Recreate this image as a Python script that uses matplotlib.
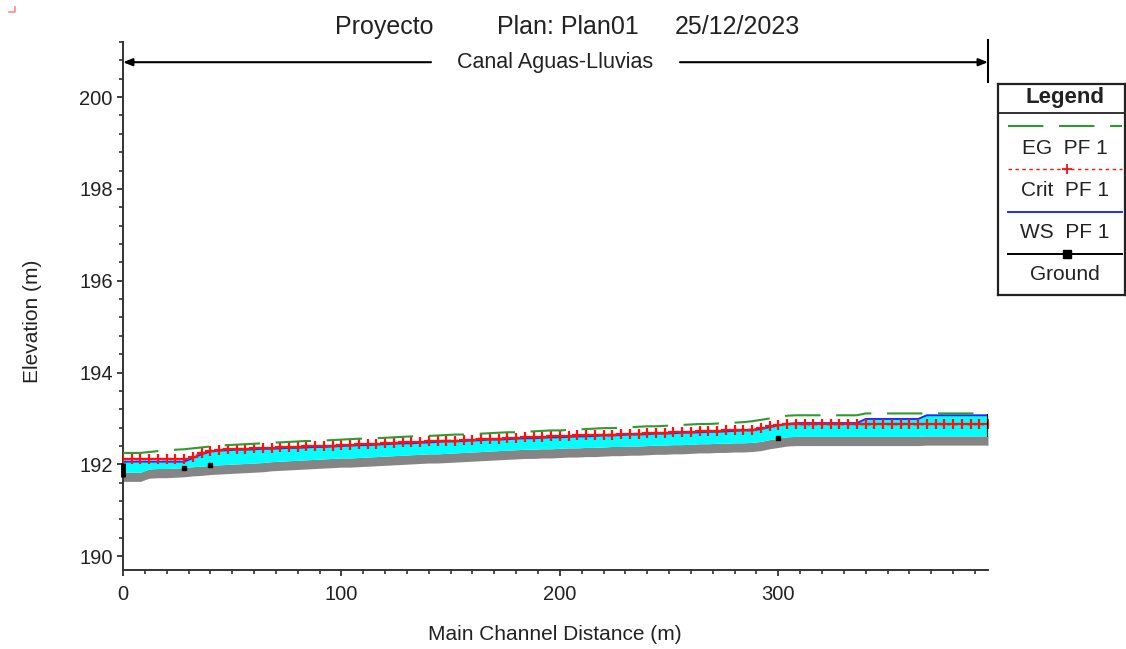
import matplotlib
matplotlib.use('Agg')
import matplotlib.pyplot as plt
from matplotlib.lines import Line2D
from matplotlib.ticker import MultipleLocator

plt.rcParams['font.family'] = ['Liberation Sans', 'DejaVu Sans']

# profile stations along the main channel (m)
station = list(range(0, 397, 4))

ground = [
    191.83, 191.83, 191.83, 191.90, 191.91, 191.91, 191.92, 191.93, 191.95, 191.96,
    191.98, 191.99, 192.00, 192.01, 192.02, 192.03, 192.04, 192.06, 192.07, 192.08,
    192.09, 192.10, 192.11, 192.12, 192.13, 192.14, 192.14, 192.15, 192.16, 192.17,
    192.18, 192.19, 192.20, 192.21, 192.22, 192.23, 192.23, 192.24, 192.25, 192.26,
    192.27, 192.28, 192.29, 192.30, 192.31, 192.32, 192.33, 192.33, 192.34, 192.34,
    192.35, 192.36, 192.36, 192.37, 192.37, 192.38, 192.39, 192.39, 192.40, 192.40,
    192.41, 192.42, 192.42, 192.43, 192.43, 192.44, 192.45, 192.45, 192.46, 192.46,
    192.47, 192.47, 192.48, 192.50, 192.54, 192.57, 192.60, 192.61, 192.61, 192.61,
    192.61, 192.61, 192.61, 192.61, 192.61, 192.61, 192.61, 192.61, 192.61, 192.61,
    192.61, 192.61, 192.62, 192.62, 192.62, 192.62, 192.62, 192.62, 192.62, 192.62,
]

ws = [
    192.06, 192.06, 192.06, 192.06, 192.06, 192.06, 192.06, 192.06, 192.14, 192.22,
    192.28, 192.30, 192.31, 192.32, 192.32, 192.33, 192.34, 192.34, 192.35, 192.36,
    192.36, 192.37, 192.38, 192.38, 192.39, 192.40, 192.41, 192.42, 192.42, 192.43,
    192.44, 192.45, 192.46, 192.46, 192.47, 192.48, 192.49, 192.50, 192.50, 192.51,
    192.52, 192.53, 192.54, 192.54, 192.55, 192.56, 192.57, 192.57, 192.58, 192.59,
    192.59, 192.60, 192.61, 192.61, 192.62, 192.63, 192.63, 192.64, 192.65, 192.65,
    192.66, 192.67, 192.67, 192.68, 192.69, 192.69, 192.70, 192.71, 192.71, 192.72,
    192.73, 192.74, 192.74, 192.77, 192.81, 192.85, 192.88, 192.90, 192.90, 192.90,
    192.90, 192.90, 192.90, 192.90, 192.90, 192.99, 192.99, 192.99, 192.99, 192.99,
    192.99, 192.99, 193.07, 193.07, 193.07, 193.07, 193.07, 193.07, 193.07, 193.07,
]

crit = [
    192.11, 192.11, 192.11, 192.11, 192.11, 192.11, 192.11, 192.11, 192.17, 192.24,
    192.30, 192.32, 192.33, 192.34, 192.34, 192.35, 192.36, 192.36, 192.37, 192.38,
    192.38, 192.39, 192.40, 192.40, 192.41, 192.42, 192.43, 192.44, 192.44, 192.45,
    192.46, 192.47, 192.48, 192.48, 192.49, 192.50, 192.51, 192.52, 192.52, 192.53,
    192.54, 192.55, 192.56, 192.56, 192.57, 192.58, 192.59, 192.59, 192.60, 192.61,
    192.61, 192.62, 192.63, 192.63, 192.64, 192.65, 192.65, 192.66, 192.67, 192.67,
    192.68, 192.69, 192.69, 192.70, 192.71, 192.71, 192.72, 192.73, 192.73, 192.74,
    192.75, 192.76, 192.76, 192.79, 192.83, 192.86, 192.87, 192.87, 192.87, 192.87,
    192.87, 192.87, 192.87, 192.87, 192.87, 192.87, 192.87, 192.87, 192.87, 192.87,
    192.87, 192.87, 192.87, 192.87, 192.87, 192.87, 192.87, 192.87, 192.87, 192.87,
]

eg = [
    192.25, 192.25, 192.25, 192.27, 192.29, 192.30, 192.32, 192.33, 192.35, 192.37,
    192.39, 192.41, 192.42, 192.43, 192.44, 192.45, 192.46, 192.47, 192.48, 192.49,
    192.50, 192.51, 192.51, 192.52, 192.53, 192.54, 192.55, 192.56, 192.56, 192.57,
    192.58, 192.59, 192.60, 192.61, 192.61, 192.62, 192.63, 192.64, 192.65, 192.65,
    192.66, 192.67, 192.68, 192.69, 192.70, 192.70, 192.71, 192.72, 192.73, 192.74,
    192.74, 192.75, 192.76, 192.77, 192.78, 192.79, 192.79, 192.80, 192.81, 192.82,
    192.83, 192.83, 192.84, 192.85, 192.86, 192.87, 192.88, 192.88, 192.89, 192.90,
    192.91, 192.92, 192.94, 192.97, 193.00, 193.03, 193.06, 193.07, 193.07, 193.07,
    193.07, 193.07, 193.07, 193.07, 193.07, 193.11, 193.11, 193.11, 193.11, 193.11,
    193.11, 193.11, 193.11, 193.11, 193.11, 193.11, 193.11, 193.11, 193.11, 193.11,
]

ground_marks = [28, 40, 300]   # surveyed sections shown with a ground marker

title_parts = ['Proyecto', 'Plan: Plan01', '25/12/2023']
reach_name = 'Canal Aguas-Lluvias'
legend_labels = ['EG  PF 1', 'Crit  PF 1', 'WS  PF 1', 'Ground']

EG_COL = '#2f9a2f'
CRIT_COL = '#ff1010'
WS_COL = '#1f2bff'
TXT = '#222222'

W, H = 1126, 649
fig = plt.figure(figsize=(W / 100, H / 100), dpi=100)
ax = fig.add_axes([123 / W, 1 - 570 / H, 865 / W, 528 / H])

# ground band and water
base = [g - 0.2 for g in ground]
ax.fill_between(station, base, ground, color='#858585', lw=0, zorder=1)
ax.fill_between(station, ground, ws, color='#00ffff', lw=0, zorder=2)
ax.plot(station, ws, color=WS_COL, lw=1.4, zorder=3)
ax.plot(station, crit, color=CRIT_COL, lw=1.2, ls=(0, (2, 2)),
        marker='+', ms=7.5, mew=1.6, zorder=4)
ax.plot(station, eg, color=EG_COL, lw=1.5, dashes=(17, 7.5), zorder=5)

gm = [station.index(s) for s in ground_marks]
ax.plot([station[i] for i in gm], [ground[i] for i in gm], ls='none',
        marker='s', ms=2.2, color='black', zorder=6)

# end-of-reach ticks
ax.plot([0, 0], [ground[0] - 0.11, ws[0] - 0.04], color='black', lw=3.5,
        solid_capstyle='butt', clip_on=False, zorder=6)
ax.plot([station[-1]] * 2, [ground[-1], ws[-1]], color='black', lw=1.5,
        zorder=6)

ax.set_xlim(0, 396)
ax.set_ylim(189.7, 201.2)
ax.xaxis.set_major_locator(MultipleLocator(100))
ax.xaxis.set_minor_locator(MultipleLocator(10))
ax.yaxis.set_major_locator(MultipleLocator(2))
ax.yaxis.set_minor_locator(MultipleLocator(0.4))
ax.spines['top'].set_visible(False)
ax.spines['right'].set_visible(False)
for s in ('left', 'bottom'):
    ax.spines[s].set_linewidth(1.4)
    ax.spines[s].set_color('#333333')
ax.tick_params(which='major', direction='out', length=4.3, width=1.3,
               colors='#333333', labelcolor=TXT, labelsize=14.5)
ax.tick_params(which='minor', direction='out', length=2.8, width=1.2,
               colors='#333333')
ax.tick_params(axis='x', which='major', pad=6.5)
ax.tick_params(axis='y', which='major', pad=3)

# reach label with arrows
yr = 200.76
mid = station[-1] / 2
gap = 57
arrow = dict(arrowstyle='-|>,head_length=0.55,head_width=0.22',
             color='black', lw=1.5, shrinkA=0, shrinkB=0)
ax.annotate('', xy=(0, yr), xytext=(mid - gap, yr), arrowprops=arrow,
            annotation_clip=False)
ax.annotate('', xy=(station[-1], yr), xytext=(mid + gap, yr),
            arrowprops=arrow, annotation_clip=False)
ax.text(mid, yr, reach_name, ha='center', va='center', fontsize=15.5,
        color=TXT)
ax.plot([station[-1]] * 2, [200.33, 201.25], color='black', lw=1.5,
        clip_on=False)

# title and axis labels
for s, xp in zip(title_parts, [335, 497, 675]):
    fig.text(xp / W, 1 - 27 / H, s, ha='left', va='center', fontsize=18,
             color=TXT)
fig.text(555 / W, 1 - 634 / H, 'Main Channel Distance (m)', ha='center',
         va='center', fontsize=15, color=TXT)
fig.text(33 / W, 1 - 321 / H, 'Elevation (m)', ha='center', va='center',
         rotation=90, fontsize=15, color=TXT)

# legend panel
lax = fig.add_axes([998 / W, 1 - 295 / H, 127 / W, 211 / H])
lax.set_xlim(998, 1125)
lax.set_ylim(295, 84)
lax.set_xticks([])
lax.set_yticks([])
for s in lax.spines.values():
    s.set_linewidth(1.6)
    s.set_color('#222222')
cx = 1065
lax.text(cx, 98, 'Legend', ha='center', va='center', fontsize=16,
         fontweight='bold', color=TXT)
lax.plot([998, 1125], [113, 113], color='#333333', lw=1.4)
x0, x1 = 1008, 1122
lax.plot([x0, x1], [126, 126], color=EG_COL, lw=1.5, dashes=(17, 7.5))
lax.plot([x0, x1], [169, 169], color=CRIT_COL, lw=1.0, ls=(0, (2.5, 2.5)))
lax.plot([cx + 2], [169], color=CRIT_COL, marker='+', ms=6.5, mew=1.3)
lax.plot([x0, x1], [212, 212], color=WS_COL, lw=1.4)
lax.plot([x0, x1], [254, 254], color='black', lw=1.4)
lax.plot([cx + 2], [254], color='black', marker='s', ms=5.5)
for lab, yp in zip(legend_labels, [148, 190, 233, 275]):
    lax.text(cx, yp, lab, ha='center', va='center', fontsize=15, color=TXT)

# small corner mark at the top-left of the window
fig.add_artist(Line2D([9 / W, 15 / W, 15 / W],
                      [1 - 12 / H, 1 - 12 / H, 1 - 7 / H],
                      color='#ff8a8a', lw=1.2))

fig.savefig('out.png', dpi=100)
